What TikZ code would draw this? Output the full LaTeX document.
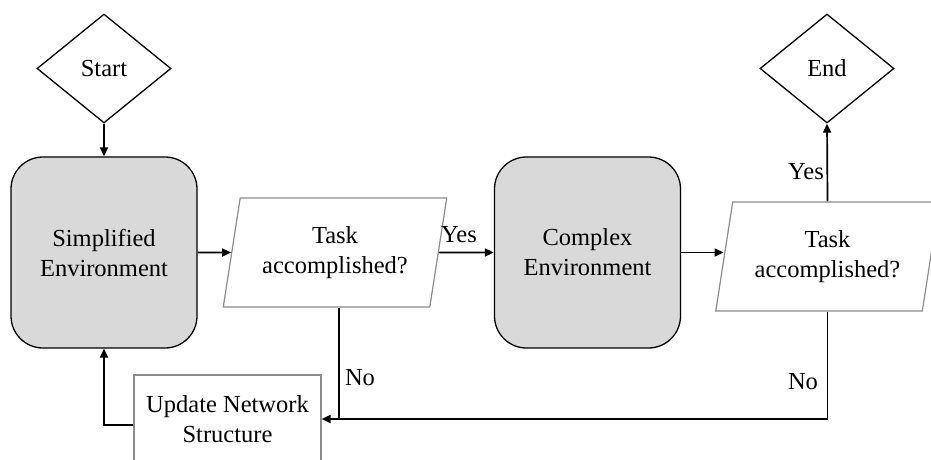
\documentclass[tikz,border=0pt]{standalone}
\usepackage{fontspec}
\setmainfont{Liberation Serif}
\usetikzlibrary{shapes.geometric,arrows.meta}
\definecolor{boxfill}{RGB}{217,217,217}
\definecolor{lightedge}{RGB}{140,140,140}
\begin{document}
\begin{tikzpicture}[x=1pt,y=-1pt,
  every node/.style={font=\rmfamily\fontsize{24.5}{30}\selectfont},
  term/.style={diamond, draw=black, line width=1.3pt, aspect=1.23, minimum width=134pt, minimum height=109pt, inner sep=0pt},
  env/.style={rectangle, rounded corners=32pt, draw=black, line width=1.3pt, fill=boxfill, minimum width=186pt, minimum height=191pt, align=center},
  decision/.style={trapezium, trapezium left angle=76, trapezium right angle=104, trapezium stretches=true, draw=lightedge, line width=1.2pt, minimum width=224pt, minimum height=109pt, align=center, inner sep=0pt},
  procbox/.style={rectangle, draw=lightedge, line width=1.2pt, minimum width=187pt, minimum height=88pt, align=center},
  flow/.style={line width=1.7pt, -{Triangle[length=9pt,width=8pt]}},
  plain/.style={line width=1.7pt},
  lbl/.style={inner sep=0pt}]
\useasboundingbox (0,0) rectangle (931,459);
\clip (0,0) rectangle (931,459);
\node[term] (start) at (104,68.5) {Start};
\node[term] (end) at (827,68.5) {End};
\node[env] (simp) at (104,252.5) {Simplified\\Environment};
\node[env] (cx) at (587.5,252.5) {Complex\\Environment};
\node[decision] (p1) at (335,252.5) {Task\\accomplished?};
\node[decision] (p2) at (827.5,256.5) {Task\\accomplished?};
\node[procbox] (upd) at (227.5,419) {Update Network\\Structure};
\node[lbl] (yes1) at (459,235) {Yes};
\node[lbl] (yes2) at (806,172) {Yes};
\node[lbl] (no1) at (360,378) {No};
\node[lbl] (no2) at (803,382) {No};
\draw[flow] (start) -- (simp);
\draw[flow] (simp.east) -- (p1);
\draw[flow] (p1) -- (cx.west);
\draw[flow] (cx.east) -- (cx.east -| p2.west);
\draw[flow] (p2.north) -- (end.south);
\draw[flow] (p2.south) |- (upd.east);
\draw[plain] ([xshift=4pt]p1.south) -- ([xshift=4pt]p1.south |- upd.east);
\draw[flow] ([yshift=-6pt]upd.west) -| (simp.south);
\end{tikzpicture}
\end{document}
